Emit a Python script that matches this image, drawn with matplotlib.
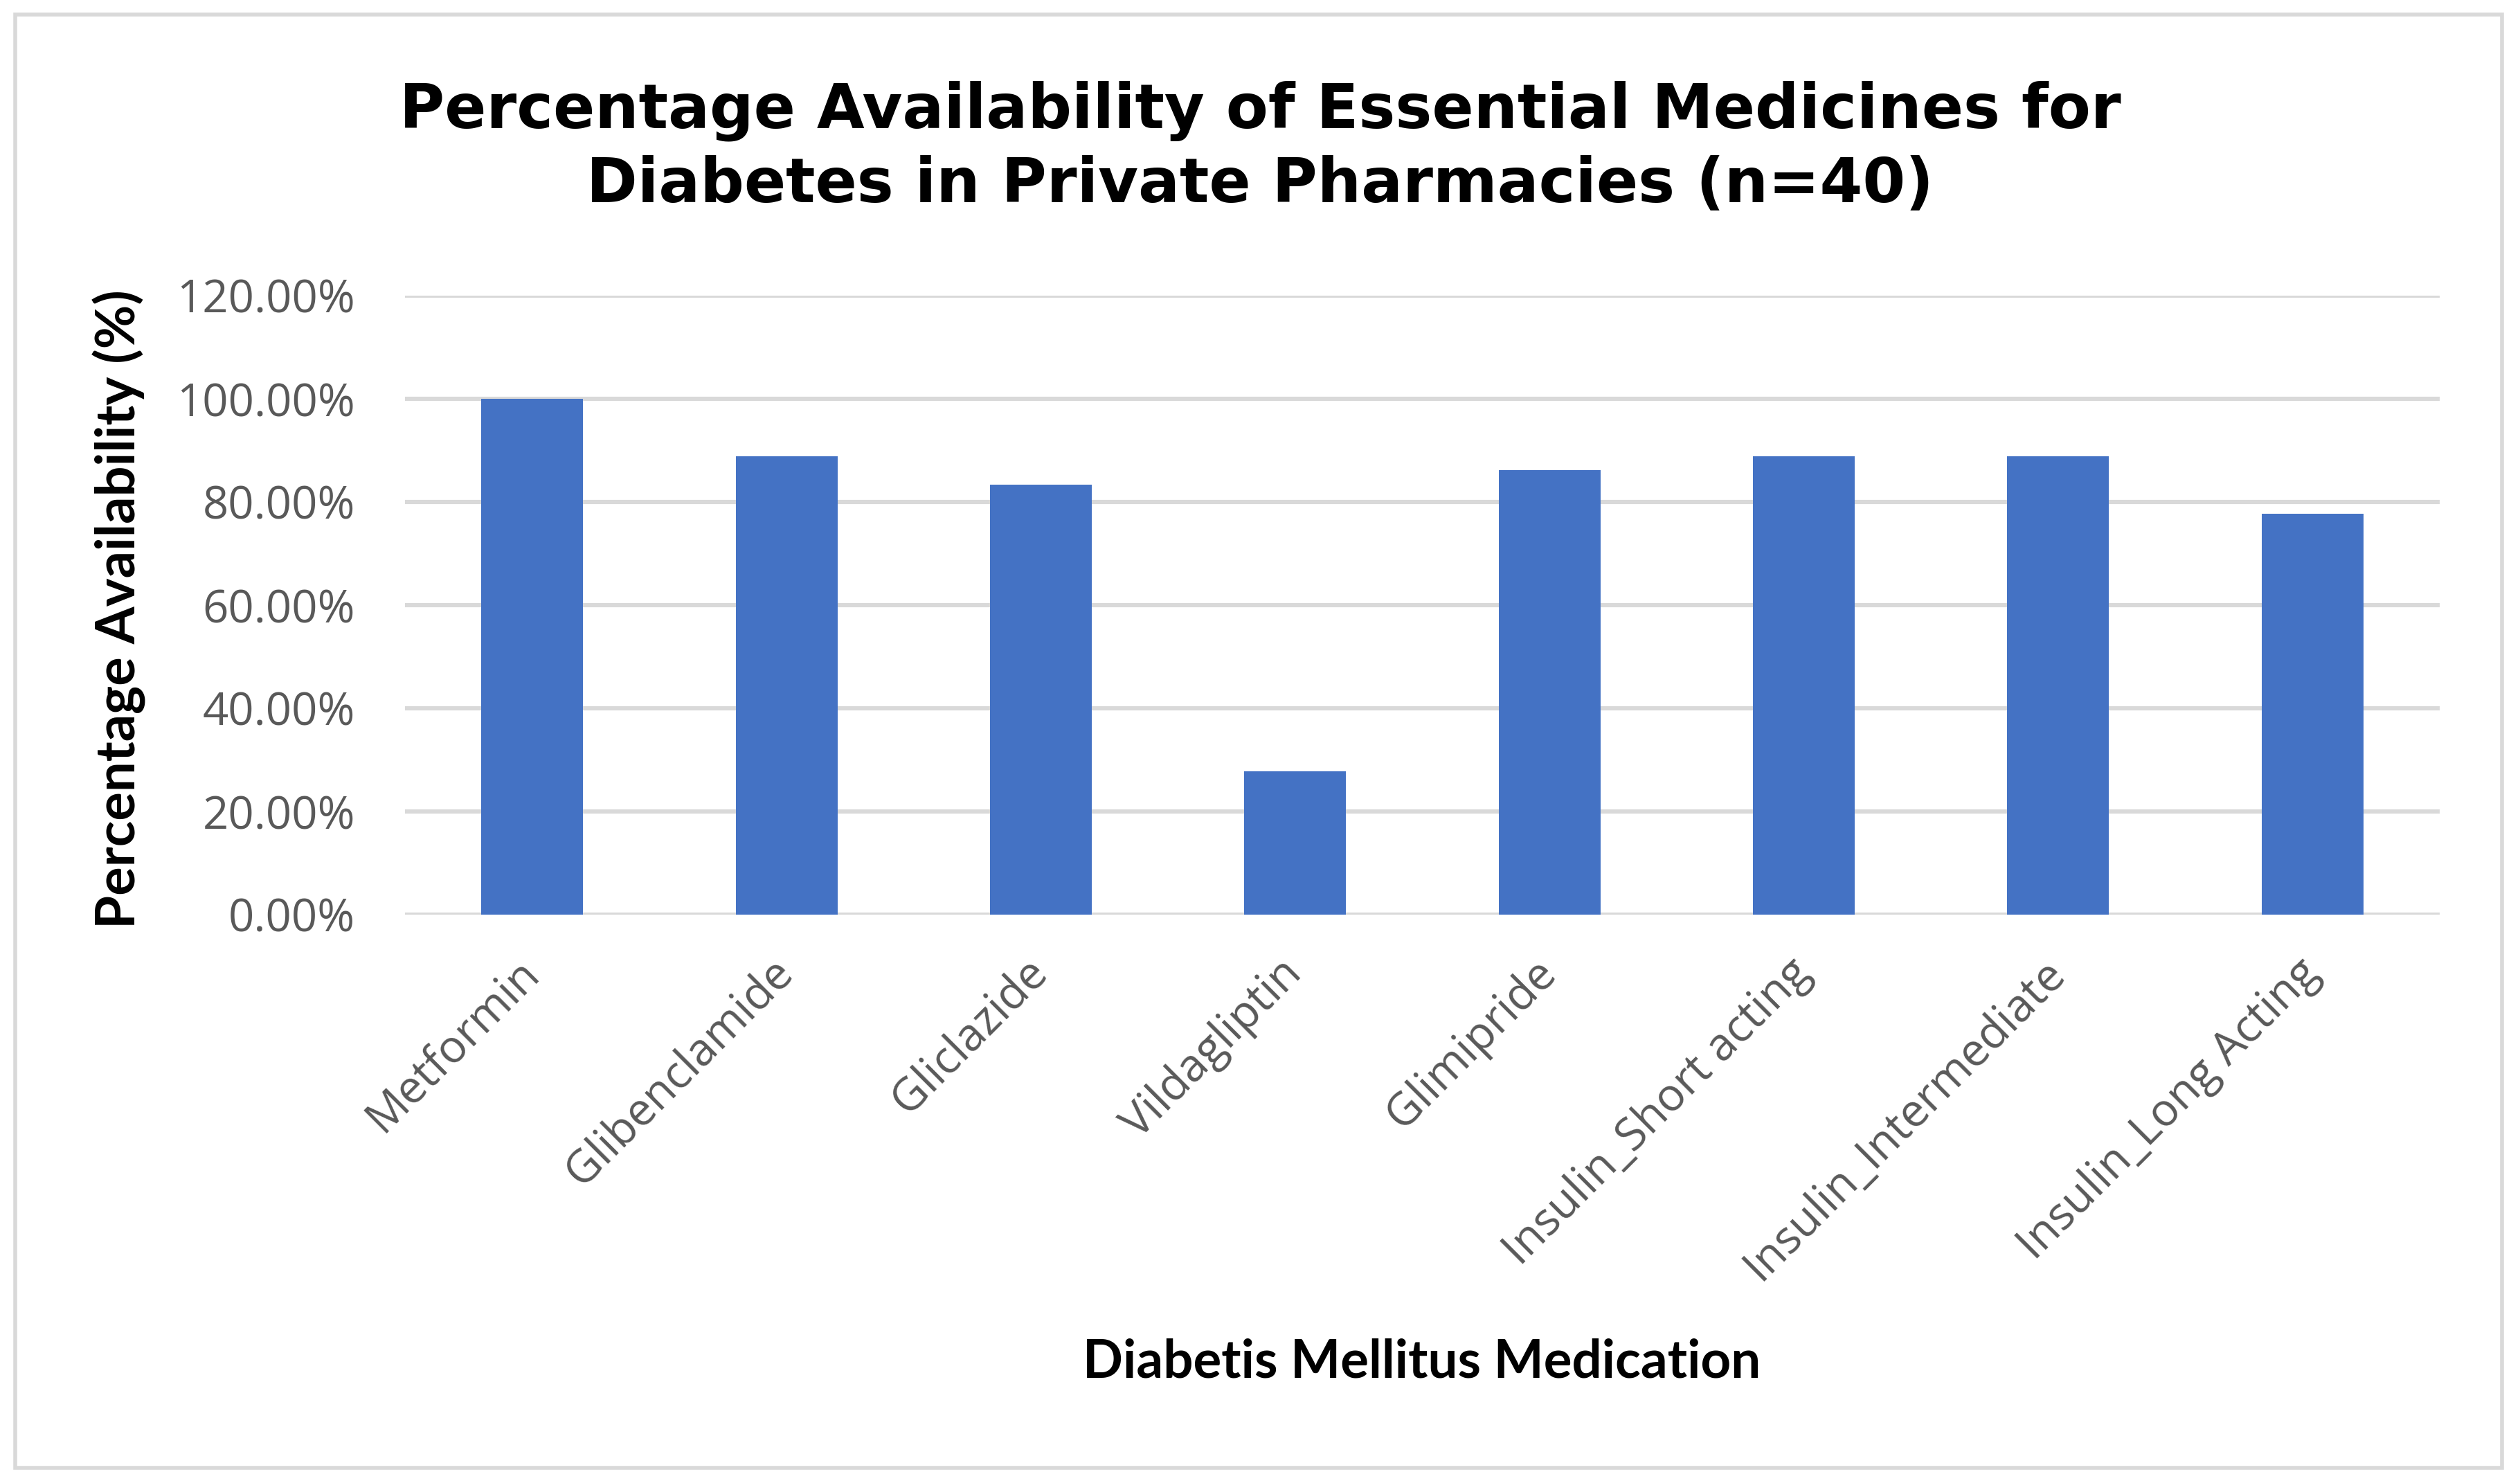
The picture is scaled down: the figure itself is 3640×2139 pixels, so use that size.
import matplotlib
matplotlib.use('Agg')
from matplotlib import pyplot as plt
from matplotlib.patches import Rectangle
from matplotlib.ticker import FuncFormatter

# data
medicines = ['Metformin', 'Glibenclamide', 'Gliclazide', 'Vildagliptin', 'Glimipride',
             'Insulin_Short acting', 'Insulin_Intermediate', 'Insulin_Long Acting']
availability = [100.00, 88.89, 83.33, 27.78, 86.11, 88.89, 88.89, 77.78]
y_ticks = [0, 20, 40, 60, 80, 100, 120]

W, H, DPI = 3640, 2139, 200
fig = plt.figure(figsize=(W / DPI, H / DPI), dpi=DPI)

# light grey chart frame
fig.patches.append(Rectangle((22 / W, 19 / H), (3614 - 22) / W, (2118 - 19) / H,
                             transform=fig.transFigure, fill=False,
                             edgecolor='#D9D9D9', linewidth=2.0))

ax = fig.add_axes([585 / W, 1 - 1321 / H, (3524 - 585) / W, (1321 - 427) / H])

x = range(len(medicines))
ax.bar(x, availability, width=0.4, color='#4472C4', zorder=3)

ax.set_xlim(-0.5, len(medicines) - 0.5)
ax.set_ylim(0, 120)
ax.set_yticks(y_ticks)
ax.yaxis.set_major_formatter(FuncFormatter(lambda v, p: f'{v:.2f}%'))
ax.grid(axis='y', color='#D9D9D9', linewidth=2.2, zorder=0)
ax.set_axisbelow(True)

for s in ax.spines.values():
    s.set_visible(False)
ax.tick_params(axis='both', length=0)
ax.tick_params(axis='y', pad=26)
ax.tick_params(axis='x', pad=27)

ax.set_xticks(list(x))
ax.set_xticklabels(medicines, rotation=45, ha='right', va='center', rotation_mode='anchor')
for lbl in ax.get_xticklabels() + ax.get_yticklabels():
    lbl.set_fontfamily('Open Sans')
    lbl.set_fontsize(23.5)
    lbl.set_color('#595959')

fig.text(0.5, 1 - 214 / H,
         'Percentage Availability of Essential Medicines for\nDiabetes in Private Pharmacies (n=40)',
         ha='center', va='center', fontsize=32, fontweight='bold',
         family='DejaVu Sans', linespacing=1.3)

fig.text(172 / W, 1 - 880 / H, 'Percentage Availability (%)', rotation=90,
         ha='center', va='center', fontsize=28, fontweight='bold', family='Lato')
fig.text(2054 / W, 1 - 1990 / H, 'Diabetis Mellitus Medication',
         ha='center', va='baseline', fontsize=27.5, fontweight='bold', family='Lato')

plt.savefig('out.png', dpi=DPI)
